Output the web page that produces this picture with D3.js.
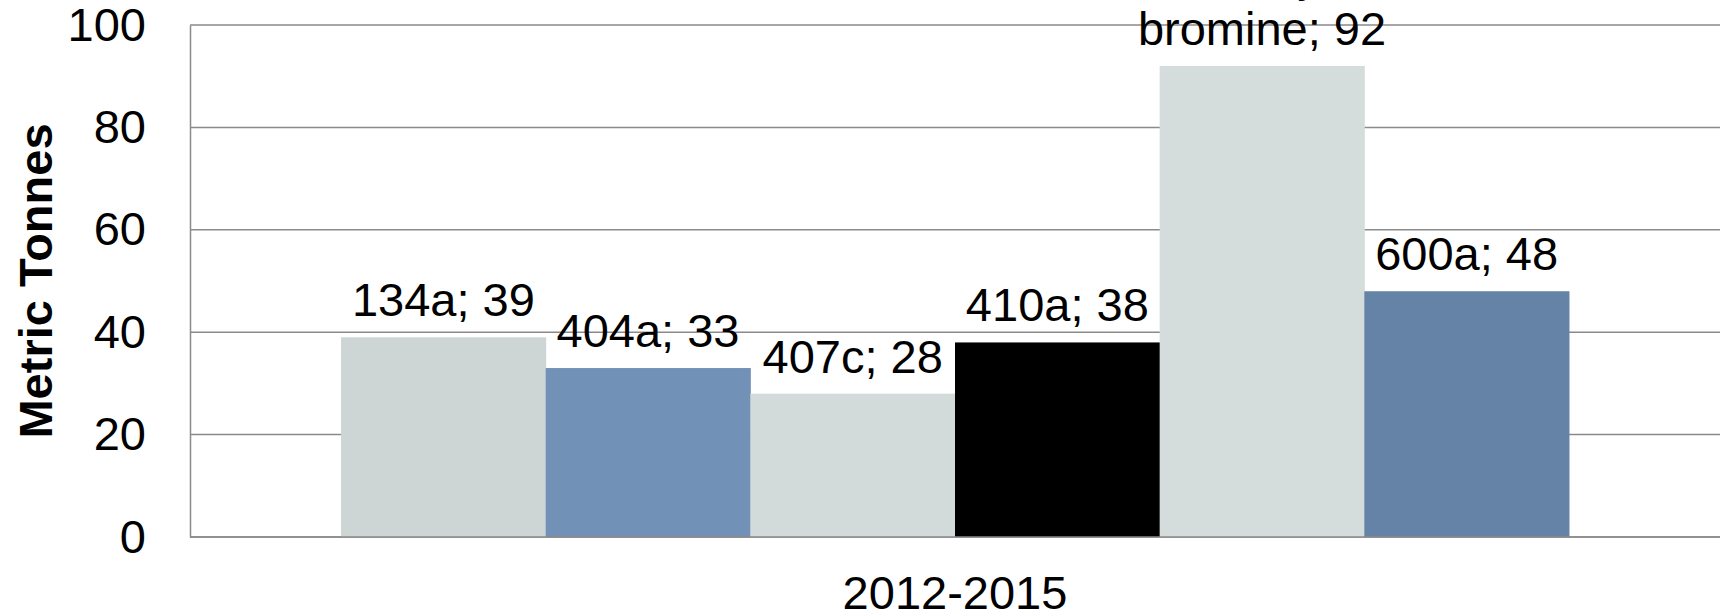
<!DOCTYPE html>
<meta charset="utf-8">
<script src="https://d3js.org/d3.v7.min.js"></script>
<style>
  body { margin: 0; background: #fff; }
  text { font-family: "Liberation Sans", Arial, sans-serif; fill: #000; }
</style>
<div id="chart"></div>
<script>

// data
var period = ["2012-2015"];
var refrigerants = ["134a", "404a", "407c", "410a", "methyl bromine", "600a"];
var tonnes = [39, 33, 28, 38, 92, 48];
var barColors = ["#cdd6d5", "#7191b7", "#d3dbda", "#000000", "#d5dcdc", "#6583a7"];
var yTicks = [0, 20, 40, 60, 80, 100];

var width = 1733, height = 615;
var margin = {top: 25, right: 13, bottom: 78, left: 190};

var svg = d3.select("#chart")
  .append("svg")
    .attr("width", width)
    .attr("height", height);

// scales
var y = d3.scaleLinear()
    .domain([0, 100])
    .range([height - margin.bottom, margin.top]);

var x0 = d3.scaleBand()
    .domain(period)
    .range([margin.left, width - margin.right])
    .paddingInner(0)
    .paddingOuter(0.123);

var x1 = d3.scaleBand()
    .domain(refrigerants)
    .range([0, x0.bandwidth()]);

// gridlines
svg.append("g")
  .selectAll("line")
  .data(yTicks)
  .enter().append("line")
    .attr("x1", margin.left)
    .attr("x2", width - margin.right)
    .attr("y1", function(d) { return y(d); })
    .attr("y2", function(d) { return y(d); })
    .attr("stroke", "#8a8a8a")
    .attr("stroke-width", 1.5);

// y axis
var yAxis = svg.append("g")
    .attr("transform", "translate(" + margin.left + ",0)")
    .call(d3.axisLeft(y).tickValues(yTicks).tickSize(0).tickPadding(44));
yAxis.select(".domain").attr("stroke", "#8a8a8a").attr("stroke-width", 1.5);
yAxis.selectAll("text")
    .style("font-size", "47px")
    .style("font-family", "'Liberation Sans', Arial, sans-serif")
    .attr("fill", "#000");

// bars
var bars = svg.append("g")
    .attr("transform", "translate(" + x0(period[0]) + ",0)");

bars.selectAll("rect")
  .data(refrigerants)
  .enter().append("rect")
    .attr("x", function(d) { return x1(d); })
    .attr("width", x1.bandwidth() + 0.5)
    .attr("y", function(d, i) { return y(tonnes[i]); })
    .attr("height", function(d, i) { return y(0) - y(tonnes[i]); })
    .attr("fill", function(d, i) { return barColors[i]; });

// x axis line
svg.append("line")
    .attr("x1", margin.left)
    .attr("x2", width - margin.right)
    .attr("y1", y(0))
    .attr("y2", y(0))
    .attr("stroke", "#8a8a8a")
    .attr("stroke-width", 1.5);

// data labels, wrapped like excel does
var wrapWidth = 260;
bars.selectAll("text.lbl")
  .data(refrigerants)
  .enter().append("text")
    .attr("class", "lbl")
    .attr("text-anchor", "middle")
    .style("font-size", "47px")
    .each(function(d, i) {
      var t = d3.select(this);
      var words = (d + "; " + tonnes[i]).split(" ");
      var lines = [], cur = [];
      var probe = t.append("tspan");
      words.forEach(function(w) {
        cur.push(w);
        probe.text(cur.join(" "));
        if (probe.node().getComputedTextLength() > wrapWidth && cur.length > 1) {
          cur.pop();
          lines.push(cur.join(" "));
          cur = [w];
        }
      });
      lines.push(cur.join(" "));
      probe.remove();
      var cx = x1(d) + x1.bandwidth() / 2;
      var base = y(tonnes[i]) - 21;
      lines.forEach(function(l, k) {
        t.append("tspan")
          .attr("x", cx)
          .attr("y", base - (lines.length - 1 - k) * 54)
          .text(l);
      });
    });

// x category label
svg.append("text")
    .attr("x", x0(period[0]) + x0.bandwidth() / 2)
    .attr("y", 609)
    .attr("text-anchor", "middle")
    .style("font-size", "47px")
    .text(period[0]);

// y title
svg.append("text")
    .attr("transform", "translate(52," + (margin.top + (height - margin.bottom - margin.top) / 2) + ") rotate(-90)")
    .attr("text-anchor", "middle")
    .style("font-size", "47px")
    .style("font-weight", "bold")
    .text("Metric Tonnes");

</script>
